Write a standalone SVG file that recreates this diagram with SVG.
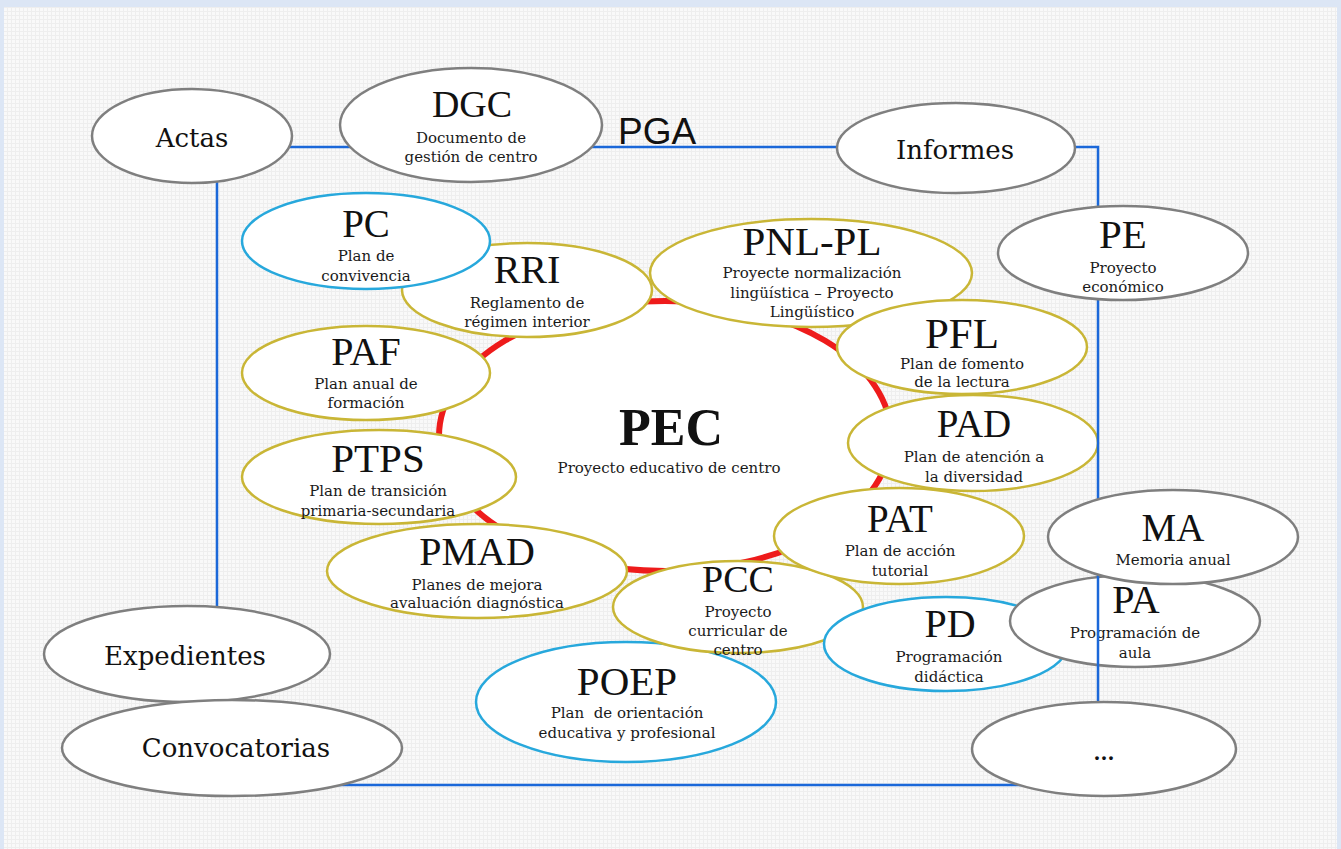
<svg xmlns="http://www.w3.org/2000/svg" width="1341" height="849" viewBox="0 0 1341 849">
<defs>
<pattern id="grid" width="4" height="4" patternUnits="userSpaceOnUse">
<rect width="4" height="4" fill="#eeeeee"/>
<rect width="3" height="3" fill="#f9f9f9"/>
</pattern>
<style>
.g{fill:#fff;stroke:#7f7f7f;stroke-width:2.5}
.y{fill:#fff;stroke:#c9b636;stroke-width:2.5}
.b{fill:#fff;stroke:#27a8dc;stroke-width:2.5}
.r{fill:#fff;stroke:#ee1b1b;stroke-width:6}
.h{font-family:"Liberation Serif","Times New Roman",serif;font-size:40px;fill:#111;text-anchor:middle}
.s{font-family:"DejaVu Serif","Liberation Serif",serif;font-size:15px;fill:#1a1a1a;text-anchor:middle}
.w{font-family:"DejaVu Serif","Liberation Serif",serif;font-size:26px;fill:#111;text-anchor:middle}
.ln{fill:none;stroke:#1b68d9;stroke-width:2.5}
</style>
</defs>
<rect width="1341" height="849" fill="#dce6f5"/>
<rect x="4" y="7" width="1333" height="842" fill="url(#grid)"/>

<g id="PEC">
<ellipse class="r" cx="665" cy="436" rx="226" ry="135"/>
<text x="671" y="445" class="h" style="font-weight:bold;font-size:52px">PEC</text>
<text x="669" y="473" class="s">Proyecto educativo de centro</text>
</g>
<g id="PNL-PL">
<ellipse class="y" cx="811" cy="273" rx="161" ry="54"/>
<text x="812" y="255" class="h" style="font-size:41px">PNL-PL</text>
<text x="812" y="278" class="s">Proyecte normalización</text>
<text x="812" y="298" class="s">lingüística – Proyecto</text>
<text x="812" y="317" class="s">Lingüístico</text>
</g>
<g id="RRI">
<ellipse class="y" cx="527" cy="290" rx="125" ry="47"/>
<text x="527" y="283" class="h">RRI</text>
<text x="527" y="308" class="s">Reglamento de</text>
<text x="527" y="327" class="s">régimen interior</text>
</g>
<g id="PC">
<ellipse class="b" cx="366" cy="241" rx="124" ry="48"/>
<text x="366" y="237" class="h" style="font-size:39px">PC</text>
<text x="366" y="261" class="s">Plan de</text>
<text x="366" y="281" class="s">convivencia</text>
</g>
<g id="PFL">
<ellipse class="y" cx="962" cy="347" rx="125" ry="47"/>
<text x="962" y="348" class="h" style="font-size:43px">PFL</text>
<text x="962" y="369" class="s">Plan de fomento</text>
<text x="962" y="387" class="s">de la lectura</text>
</g>
<g id="PAD">
<ellipse class="y" cx="973" cy="443" rx="125" ry="48"/>
<text x="974" y="437" class="h" style="font-size:39px">PAD</text>
<text x="974" y="462" class="s">Plan de atención a</text>
<text x="974" y="482" class="s">la diversidad</text>
</g>
<g id="PAF">
<ellipse class="y" cx="366" cy="373" rx="124" ry="47"/>
<text x="366" y="365" class="h">PAF</text>
<text x="366" y="389" class="s">Plan anual de</text>
<text x="366" y="408" class="s">formación</text>
</g>
<g id="PTPS">
<ellipse class="y" cx="379" cy="477" rx="137" ry="47"/>
<text x="378" y="472" class="h" style="font-size:41px">PTPS</text>
<text x="378" y="496" class="s">Plan de transición</text>
<text x="378" y="516" class="s">primaria-secundaria</text>
</g>
<g id="PMAD">
<ellipse class="y" cx="477" cy="571" rx="150" ry="47"/>
<text x="477" y="565" class="h">PMAD</text>
<text x="477" y="590" class="s">Planes de mejora</text>
<text x="477" y="608" class="s">avaluación diagnóstica</text>
</g>
<g id="POEP">
<ellipse class="b" cx="626" cy="702" rx="150" ry="60"/>
<text x="627" y="695" class="h" style="font-size:41px">POEP</text>
<text x="627" y="718" class="s" style="white-space:pre">Plan  de orientación</text>
<text x="627" y="738" class="s">educativa y profesional</text>
</g>
<g id="PCC">
<ellipse class="y" cx="738" cy="607" rx="125" ry="46"/>
<text x="738" y="592" class="h" style="font-size:38px">PCC</text>
<text x="738" y="617" class="s">Proyecto</text>
<text x="738" y="636" class="s">curricular de</text>
<text x="738" y="655" class="s">centro</text>
</g>
<g id="PAT">
<ellipse class="y" cx="899" cy="536" rx="125" ry="48"/>
<text x="900" y="532" class="h" style="font-size:39px">PAT</text>
<text x="900" y="556" class="s">Plan de acción</text>
<text x="900" y="576" class="s">tutorial</text>
</g>
<g id="PD">
<ellipse class="b" cx="946" cy="644" rx="122" ry="47"/>
<text x="950" y="637" class="h">PD</text>
<text x="949" y="662" class="s">Programación</text>
<text x="949" y="682" class="s">didáctica</text>
</g>
<g id="PA">
<ellipse class="g" cx="1135" cy="621" rx="125" ry="46"/>
<text x="1136" y="613" class="h">PA</text>
<text x="1135" y="638" class="s">Programación de</text>
<text x="1135" y="658" class="s">aula</text>
</g>

<g id="connectors">
<rect class="ln" x="217" y="147" width="881" height="638"/>
</g>

<g id="MA">
<ellipse class="g" cx="1173" cy="537" rx="125" ry="47"/>
<text x="1173" y="541" class="h" style="font-size:39px">MA</text>
<text x="1173" y="565" class="s">Memoria anual</text>
</g>
<g id="PE">
<ellipse class="g" cx="1123" cy="253" rx="125" ry="47"/>
<text x="1123" y="248" class="h" style="font-size:41px">PE</text>
<text x="1123" y="273" class="s">Proyecto</text>
<text x="1123" y="292" class="s">económico</text>
</g>
<g id="Informes">
<ellipse class="g" cx="956" cy="148" rx="119" ry="45"/>
<text x="955" y="159" class="w">Informes</text>
</g>
<g id="DGC">
<ellipse class="g" cx="471" cy="125" rx="131" ry="57"/>
<text x="472" y="117" class="h" style="font-size:38px">DGC</text>
<text x="471" y="143" class="s">Documento de</text>
<text x="471" y="162" class="s">gestión de centro</text>
</g>
<g id="Actas">
<ellipse class="g" cx="192" cy="136" rx="100" ry="47"/>
<text x="192" y="147" class="w">Actas</text>
</g>
<g id="Expedientes">
<ellipse class="g" cx="187" cy="654" rx="143" ry="48"/>
<text x="185" y="665" class="w">Expedientes</text>
</g>
<g id="Convocatorias">
<ellipse class="g" cx="232" cy="748" rx="170" ry="48"/>
<text x="236" y="757" class="w">Convocatorias</text>
</g>
<g id="More">
<ellipse class="g" cx="1104" cy="749" rx="132" ry="47"/>
<text x="1104" y="760" class="w" style="font-size:20px;font-weight:bold">...</text>
</g>
<g id="PGA">
<text x="618" y="144" style="font-family:'Liberation Sans',Arial,sans-serif;font-size:37px;fill:#111">PGA</text>
</g>
</svg>
